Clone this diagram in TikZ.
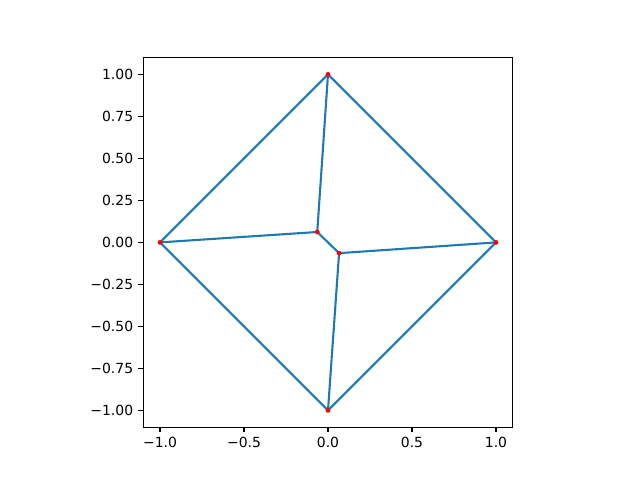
\documentclass[tikz,border=0pt]{standalone}
\usepackage{fontspec}
\setmainfont{DejaVu Sans}
\definecolor{mplblue}{HTML}{1F77B4}
\begin{document}
\begin{tikzpicture}[x=120.96pt,y=120.96pt,
  edge/.style={draw=mplblue,line width=1.5bp,line join=round,line cap=butt},
  pt/.style={circle,fill=red,inner sep=0pt,minimum size=3.4bp},
  axis/.style={line width=0.8bp,black},
  tick/.style={line width=0.8bp,black},
  ticklab/.style={font=\fontsize{10bp}{12bp}\selectfont,inner sep=0pt}]
\useasboundingbox (-1.952381,-1.416667) rectangle (1.857143,1.442857);
% vertices
\coordinate (T) at (0,1);
\coordinate (B) at (0,-1);
\coordinate (L) at (-1,0);
\coordinate (R) at (1,0);
\coordinate (P) at (-0.064,0.062);
\coordinate (Q) at (0.066,-0.064);
% edges
\draw[edge] (L) -- (T) -- (R);
\draw[edge] (L) -- (B) -- (R);
\draw[edge] (T) -- (P);
\draw[edge] (L) -- (P);
\draw[edge] (P) -- (Q);
\draw[edge] (Q) -- (R);
\draw[edge] (Q) -- (B);
% points
\foreach \n in {T,B,L,R,P,Q} \node[pt] (d\n) at (\n) {};
% axes frame
\draw[axis] (-1.1,-1.1) rectangle (1.1,1.1);
% x ticks
\foreach \v/\t in {-1/{−1.0},-0.5/{−0.5},0/{0.0},0.5/{0.5},1/{1.0}} {
  \draw[tick] (\v,-1.1) -- ++(0,-3.5bp);
  \node[ticklab,anchor=north] (xt\v) at ([yshift=-7bp]\v,-1.1) {\t};
}
% y ticks
\foreach \v/\t in {-1/{−1.00},-0.75/{−0.75},-0.5/{−0.50},-0.25/{−0.25},0/{0.00},0.25/{0.25},0.5/{0.50},0.75/{0.75},1/{1.00}} {
  \draw[tick] (-1.1,\v) -- ++(-3.5bp,0);
  \node[ticklab,anchor=east] (yt\v) at ([xshift=-7bp]-1.1,\v) {\t};
}
\end{tikzpicture}
\end{document}
